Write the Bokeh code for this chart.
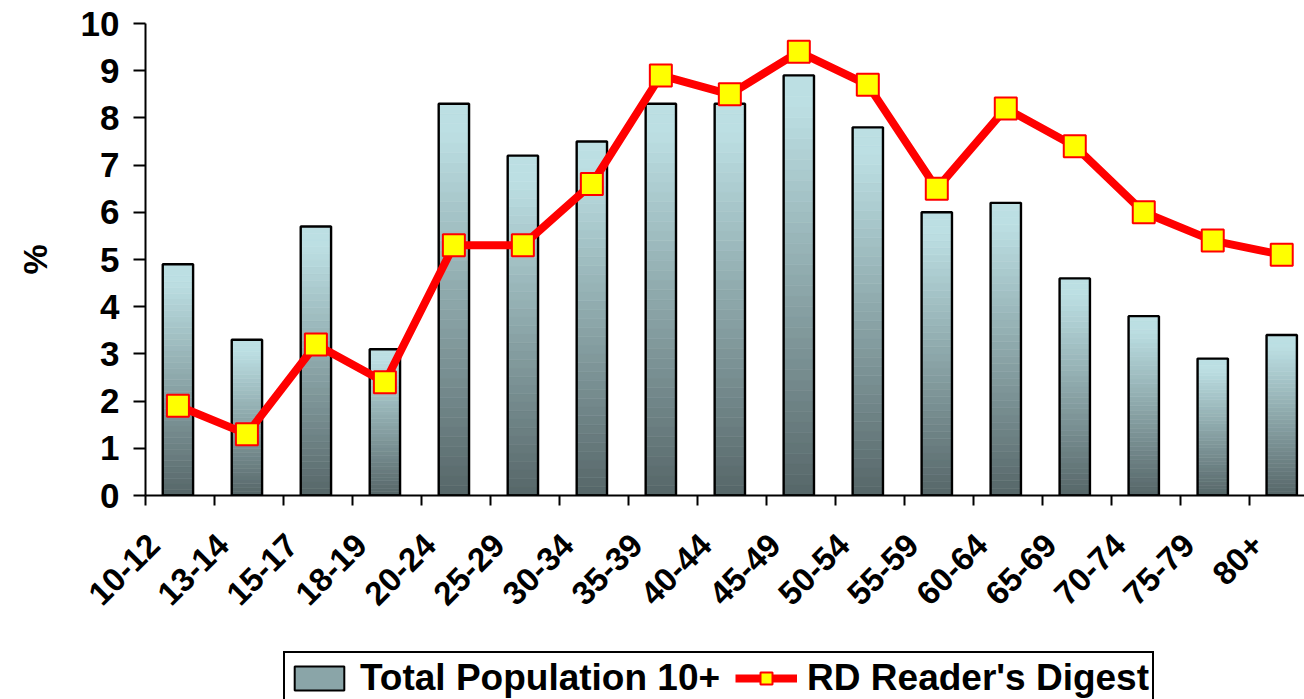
import numpy as np
from bokeh.plotting import figure
from bokeh.layouts import column
from bokeh.models import (Range1d, FixedTicker, Legend, LegendItem, ColumnDataSource)
from bokeh.embed import file_html
from bokeh.resources import INLINE

categories = ["10-12", "13-14", "15-17", "18-19", "20-24", "25-29", "30-34", "35-39",
              "40-44", "45-49", "50-54", "55-59", "60-64", "65-69", "70-74", "75-79", "80+"]
total_population = [4.9, 3.3, 5.7, 3.1, 8.3, 7.2, 7.5, 8.3, 8.3, 8.9, 7.8, 6.0, 6.2, 4.6, 3.8, 2.9, 3.4]
rd_readers = [1.9, 1.3, 3.2, 2.4, 5.3, 5.3, 6.6, 8.9, 8.5, 9.4, 8.7, 6.5, 8.2, 7.4, 6.0, 5.4, 5.1]
y_ticks = [0, 1, 2, 3, 4, 5, 6, 7, 8, 9, 10]
legend_labels = ["Total Population 10+", "RD Reader's Digest"]

FONT = "Liberation Sans"
W = 1304
H_MAIN, H_LEG = 650, 49

centers = [i + 0.47 for i in range(len(categories))]
label_pos = [c - 0.35 for c in centers]
bar_w = 0.44

p = figure(width=W, height=H_MAIN, output_backend="svg", toolbar_location=None,
           x_range=Range1d(0, 16.8), y_range=Range1d(0, 10),
           min_border_left=145, min_border_right=0, min_border_top=23, min_border_bottom=155)
p.outline_line_color = None
p.grid.visible = False

# gradient bars (top light cyan -> bottom dark slate)
top_c = np.array([188, 223, 227])
bot_c = np.array([86, 102, 104])
N = 40
l, r, b, t, cols = [], [], [], [], []
for c, v in zip(centers, total_population):
    for k in range(N):
        f = (k + 0.5) / N
        col = bot_c + (top_c - bot_c) * min(1.0, f * 1.08)
        l.append(c - bar_w / 2); r.append(c + bar_w / 2)
        b.append(v * k / N); t.append(v * (k + 1) / N)
        cols.append("#%02x%02x%02x" % tuple(int(round(x)) for x in col))
p.quad(left=l, right=r, bottom=b, top=t, fill_color=cols, line_color=cols, line_width=0.6)

# bar outlines
out_src = ColumnDataSource(dict(left=[c - bar_w / 2 for c in centers],
                                right=[c + bar_w / 2 for c in centers],
                                top=total_population, bottom=[0] * len(centers)))
p.quad(left="left", right="right", top="top", bottom="bottom", source=out_src,
       fill_color=None, line_color="black", line_width=2.4)

# RD line
p.line(centers, rd_readers, line_color="#ff0000", line_width=8, line_join="round")
p.scatter(centers, rd_readers, marker="square", size=22, fill_color="#ffff00",
          line_color="#ff0000", line_width=2)

# axes
yax = p.yaxis[0]
yax.ticker = FixedTicker(ticks=y_ticks)
yax.axis_line_width = 2
yax.major_tick_line_width = 2
yax.major_tick_out = 12
yax.major_tick_in = 0
yax.minor_tick_out = 0
yax.minor_tick_in = 0
yax.major_label_standoff = 14
yax.major_label_text_font = FONT
yax.major_label_text_font_style = "bold"
yax.major_label_text_font_size = "35px"
yax.major_label_text_color = "black"
yax.axis_label = "%"
yax.axis_label_text_font = FONT
yax.axis_label_text_font_style = "bold"
yax.axis_label_text_font_size = "34px"
yax.axis_label_standoff = 24
yax.axis_label_text_color = "black"

xax = p.xaxis[0]
xax.ticker = FixedTicker(ticks=label_pos, minor_ticks=list(range(len(categories) + 1)))
xax.major_label_overrides = {c: lab for c, lab in zip(label_pos, categories)}
xax.axis_line_width = 2
xax.major_tick_out = 0
xax.major_tick_in = 0
xax.minor_tick_out = 10
xax.minor_tick_in = 0
xax.minor_tick_line_width = 2
xax.major_label_orientation = np.pi / 4
xax.major_label_standoff = 34
xax.major_label_text_font = FONT
xax.major_label_text_font_style = "bold"
xax.major_label_text_font_size = "33px"
xax.major_label_text_color = "black"

# legend strip (clipped at the bottom like the reference)
lf = figure(width=W, height=H_LEG, output_backend="svg", toolbar_location=None,
            x_range=Range1d(0, 1), y_range=Range1d(0, 1),
            x_axis_type=None, y_axis_type=None,
            min_border_left=0, min_border_right=0, min_border_top=0, min_border_bottom=0)
lf.outline_line_color = None
lf.grid.visible = False
bar_leg = lf.quad(left=[5], right=[6], top=[6], bottom=[5], fill_color="#8aa5a8",
                  line_color="black", line_width=2)
ln_leg = lf.line([5, 6], [5, 6], line_color="#ff0000", line_width=8)
sc_leg = lf.scatter([5], [5], marker="square", size=20, fill_color="#ffff00",
                    line_color="#ff0000", line_width=2)

legend = Legend(items=[LegendItem(label=legend_labels[0], renderers=[bar_leg]),
                       LegendItem(label=legend_labels[1], renderers=[ln_leg, sc_leg])],
                location=(138, -5), orientation="horizontal",
                border_line_color="black", border_line_width=2, border_line_alpha=1.0,
                label_text_font=FONT, label_text_font_style="bold",
                label_text_font_size="37px", label_text_color="black",
                glyph_width=62, glyph_height=30, label_standoff=10,
                spacing=15, padding=3, margin=0, label_height=43)
lf.add_layout(legend, "center")

layout = column(p, lf, spacing=0)
open("out.html", "w").write(file_html(layout, INLINE))
